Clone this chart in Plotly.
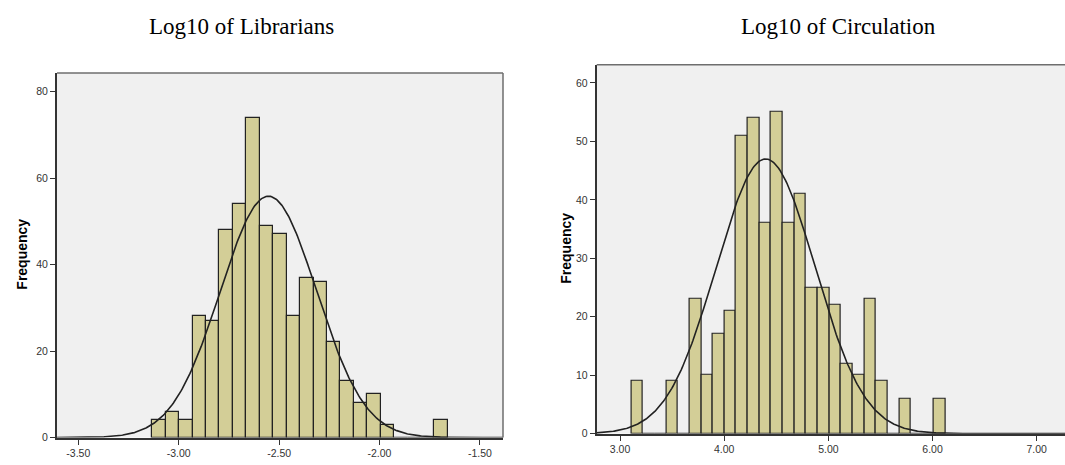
import numpy as np
import plotly.graph_objects as go

# ---------------- data ----------------
lib_first_edge = -3.1315
lib_bin_width = 0.0669
lib_counts = [4, 6, 4, 28, 27, 48, 54, 74, 49, 47, 28, 37, 36, 22, 13, 8, 10, 3, 0, 0, 0, 4]
lib_mean = -2.553
lib_sd = 0.240
lib_n = 502

circ_first_edge = 3.109
circ_bin_width = 0.1118
circ_counts = [9, 0, 0, 9, 0, 23, 10, 17, 21, 51, 54, 36, 55, 36, 41, 25, 25, 22, 12, 10, 23, 9, 0, 6, 0, 0, 6]
circ_mean = 4.398
circ_sd = 0.4745
circ_n = 500

lib_xticks = [-3.5, -3.0, -2.5, -2.0, -1.5]
lib_yticks = [0, 20, 40, 60, 80]
circ_xticks = [3.0, 4.0, 5.0, 6.0, 7.0]
circ_yticks = [0, 10, 20, 30, 40, 50, 60]

titles = ["Log10 of Librarians", "Log10 of Circulation"]
y_title = "Frequency"

# ---------------- figure ----------------
W, H = 1065, 465
BAR = "#D3CE97"

def centers(first, width, counts):
    return [first + width * (i + 0.5) for i in range(len(counts))]

def normal_curve(xmin, xmax, mean, sd, n, bw):
    xs = np.linspace(xmin, xmax, 400)
    ys = n * bw / (sd * np.sqrt(2 * np.pi)) * np.exp(-0.5 * ((xs - mean) / sd) ** 2)
    return xs, ys

lib_range = [-3.606, -1.385]
circ_range = [2.776, 7.272]

fig = go.Figure()

fig.add_trace(go.Bar(
    x=centers(lib_first_edge, lib_bin_width, lib_counts), y=lib_counts,
    width=lib_bin_width, marker=dict(color=BAR, line=dict(color="#222222", width=1.2)),
    xaxis="x", yaxis="y", showlegend=False))
xs, ys = normal_curve(lib_range[0], lib_range[1], lib_mean, lib_sd, lib_n, lib_bin_width)
fig.add_trace(go.Scatter(x=xs, y=ys, mode="lines", line=dict(color="#222222", width=1.6),
                         xaxis="x", yaxis="y", showlegend=False))

fig.add_trace(go.Bar(
    x=centers(circ_first_edge, circ_bin_width, circ_counts), y=circ_counts,
    width=circ_bin_width, marker=dict(color=BAR, line=dict(color="#222222", width=1.2)),
    xaxis="x2", yaxis="y2", showlegend=False))
xs2, ys2 = normal_curve(circ_range[0], circ_range[1], circ_mean, circ_sd, circ_n, circ_bin_width)
fig.add_trace(go.Scatter(x=xs2, y=ys2, mode="lines", line=dict(color="#222222", width=1.6),
                         xaxis="x2", yaxis="y2", showlegend=False))

tickfont = dict(family="Arial, Liberation Sans, sans-serif", size=10.5, color="#333333")
axcommon = dict(showgrid=False, zeroline=False, ticks="outside", ticklen=5, tickwidth=1,
                tickcolor="#333333", tickfont=tickfont, showline=True, linecolor="#333333",
                linewidth=2)

fig.update_layout(
    width=W, height=H,
    margin=dict(l=0, r=0, t=0, b=0),
    paper_bgcolor="white",
    plot_bgcolor="#F0F0F0",
    bargap=0,
    xaxis=dict(domain=[57 / W, 503 / W], range=lib_range, tickvals=lib_xticks,
               ticktext=[f"{v:.2f}" for v in lib_xticks], anchor="y", **axcommon),
    yaxis=dict(domain=[(H - 443.3) / H, (H - 74) / H], range=[0, 84.3], tickvals=lib_yticks,
               anchor="x", **axcommon),
    xaxis2=dict(domain=[596.7 / W, 1.0], range=circ_range, tickvals=circ_xticks,
                ticktext=[f"{v:.2f}" for v in circ_xticks], anchor="y2", **axcommon),
    yaxis2=dict(domain=[(H - 439.3) / H, (H - 65.7) / H], range=[0, 63.1], tickvals=circ_yticks,
                anchor="x2", **axcommon),
)

# frame borders (top / right)
fig.add_shape(type="line", xref="x domain", yref="y domain", x0=0, x1=1, y0=1, y1=1,
              line=dict(color="#6e6e6e", width=1.5), layer="above")
fig.add_shape(type="line", xref="x domain", yref="y domain", x0=1, x1=1, y0=0, y1=1,
              line=dict(color="#6e6e6e", width=1.5), layer="above")
fig.add_shape(type="line", xref="x2 domain", yref="y2 domain", x0=0, x1=1, y0=1, y1=1,
              line=dict(color="#6e6e6e", width=1.5), layer="above")

# titles
tfont = dict(family="Liberation Serif, Times New Roman, serif", size=23, color="black")
fig.add_annotation(text=titles[0], x=241.5 / W, y=1 - 27 / H, xref="paper", yref="paper",
                   showarrow=False, font=tfont, xanchor="center", yanchor="middle")
fig.add_annotation(text=titles[1], x=838 / W, y=1 - 27 / H, xref="paper", yref="paper",
                   showarrow=False, font=tfont, xanchor="center", yanchor="middle")

afont = dict(family="Arial, Liberation Sans, sans-serif", size=14, color="black")
fig.add_annotation(text=f"<b>{y_title}</b>", x=22 / W, y=1 - 258 / H, xref="paper", yref="paper",
                   showarrow=False, font=afont, textangle=-90, xanchor="center", yanchor="middle")
fig.add_annotation(text=f"<b>{y_title}</b>", x=566 / W, y=1 - 252 / H, xref="paper", yref="paper",
                   showarrow=False, font=afont, textangle=-90, xanchor="center", yanchor="middle")

fig.write_html("out.html", config={"displayModeBar": False},
               post_script="document.body.style.margin='0px';document.body.style.overflow='hidden';")
